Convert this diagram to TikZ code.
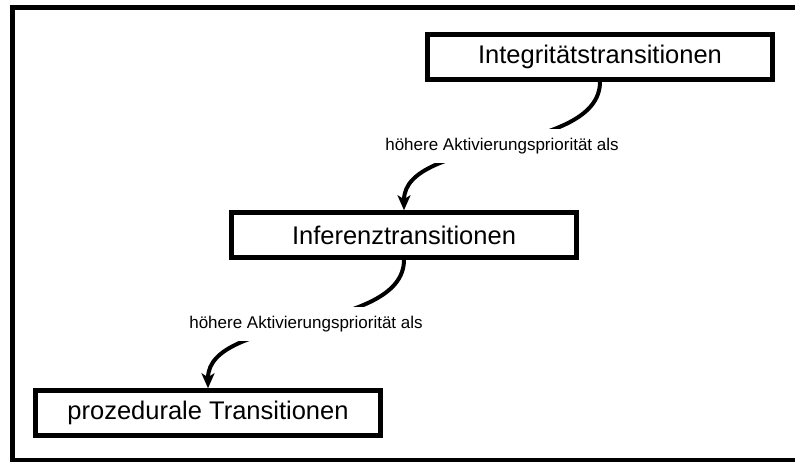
\documentclass[tikz,border=0pt]{standalone}
\usepackage{fontspec}
\setmainfont{Liberation Sans}
\usepackage{tikz}
\usetikzlibrary{shapes, arrows.meta}
\tikzstyle{transition} = [rectangle, minimum width=345pt, minimum height=45pt, text centered, draw=black, line width=4.5pt, font=\fontsize{25.5}{30}\selectfont]
\tikzstyle{prio} = [fill=white, inner xsep=3pt, inner ysep=9pt, font=\fontsize{17}{20}\selectfont]
\tikzstyle{arrow} = [line width=4pt, -{Stealth[length=15pt,width=13pt,inset=4pt]}]

\begin{document}
\begin{tikzpicture}[x=1pt, y=-1pt, node distance=178pt]
				\useasboundingbox (0,0) rectangle (795,461);
				\clip (0,0) rectangle (795,461);
				%Rahmen
				\draw [line width=5pt] (12.5,7.5) rectangle (815,460.5);

				\node (integ) [transition] at (600,57) {Integritätstransitionen};
				\node (inferenz) [transition, below of=integ, xshift=-196pt] {Inferenztransitionen};
				\node (prozedural) [transition, below of=inferenz, xshift=-196pt] {prozedurale Transitionen};

				%Verbindungen
				\draw [arrow] (integ.south) to[out=-90, in=90, looseness=0.8] node[prio]{höhere Aktivierungspriorität als} (inferenz.north);
				\draw [arrow] (inferenz.south) to[out=-90, in=90, looseness=0.8] node[prio]{höhere Aktivierungspriorität als} (prozedural.north);
\end{tikzpicture}
\end{document}
